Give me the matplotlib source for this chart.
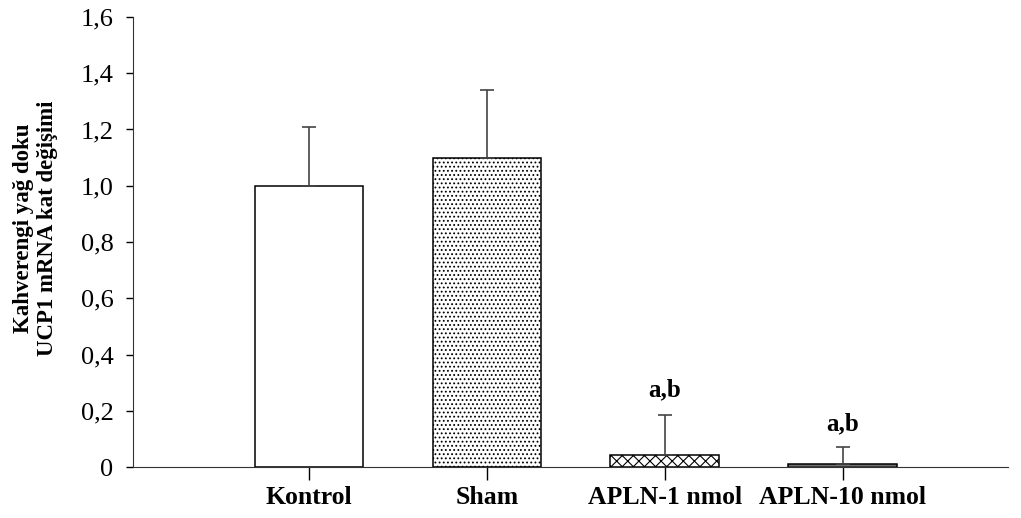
import matplotlib
matplotlib.use("Agg")
import matplotlib.pyplot as plt

categories = ["Kontrol", "Sham", "APLN-1 nmol", "APLN-10 nmol"]
means = [1.00, 1.10, 0.043, 0.011]
errors = [0.21, 0.24, 0.142, 0.060]
annotations = ["", "", "a,b", "a,b"]
y_ticks = [0, 0.2, 0.4, 0.6, 0.8, 1.0, 1.2, 1.4, 1.6]
y_tick_labels = ["0", "0,2", "0,4", "0,6", "0,8", "1,0", "1,2", "1,4", "1,6"]

plt.rcParams['font.family'] = ['Liberation Serif', 'DejaVu Serif']
plt.rcParams['hatch.linewidth'] = 0.8
plt.rcParams['hatch.color'] = '#555555'

fig = plt.figure(figsize=(10.21, 5.18), dpi=100)
ax = fig.add_axes([133/1021, 1-467/518, (1008-133)/1021, (467-17)/518])

hatches = [None, '....', 'xxx', '-----']
x = list(range(len(categories)))
for i, (m, e, h) in enumerate(zip(means, errors, hatches)):
    ax.bar(x[i], m, width=0.61, facecolor='white', edgecolor='black',
           linewidth=1.1, hatch=h, zorder=2)
    ax.errorbar(x[i], m, yerr=[[0], [e]], fmt='none', ecolor='#444444',
                elinewidth=1.2, capsize=5, capthick=1.2, zorder=3)
    if annotations[i]:
        ax.text(x[i], m + e + (0.05 if i == 2 else 0.04), annotations[i],
                ha='center', va='bottom', fontsize=18, fontweight='bold')

ax.set_xlim(-0.989, 3.93)
ax.set_ylim(0, 1.6)
ax.set_xticks(x)
ax.set_xticklabels(categories, fontsize=18.5, fontweight='bold')
ax.set_yticks(y_ticks)
ax.set_yticklabels(y_tick_labels, fontsize=19)
ax.tick_params(axis='x', direction='out', length=9, width=1, pad=5, colors='black')
ax.tick_params(axis='y', direction='out', length=5, width=1, pad=9)
ax.spines['top'].set_visible(False)
ax.spines['right'].set_visible(False)
ax.spines['left'].set_color('#333333')
ax.spines['bottom'].set_color('#333333')
ax.set_ylabel("Kahverengi yağ doku\nUCP1 mRNA kat değişimi", fontsize=16.5,
              fontweight='bold', linespacing=1.15)
ax.yaxis.set_label_coords(-0.086, 0.53)

fig.savefig("out.png", dpi=100)
